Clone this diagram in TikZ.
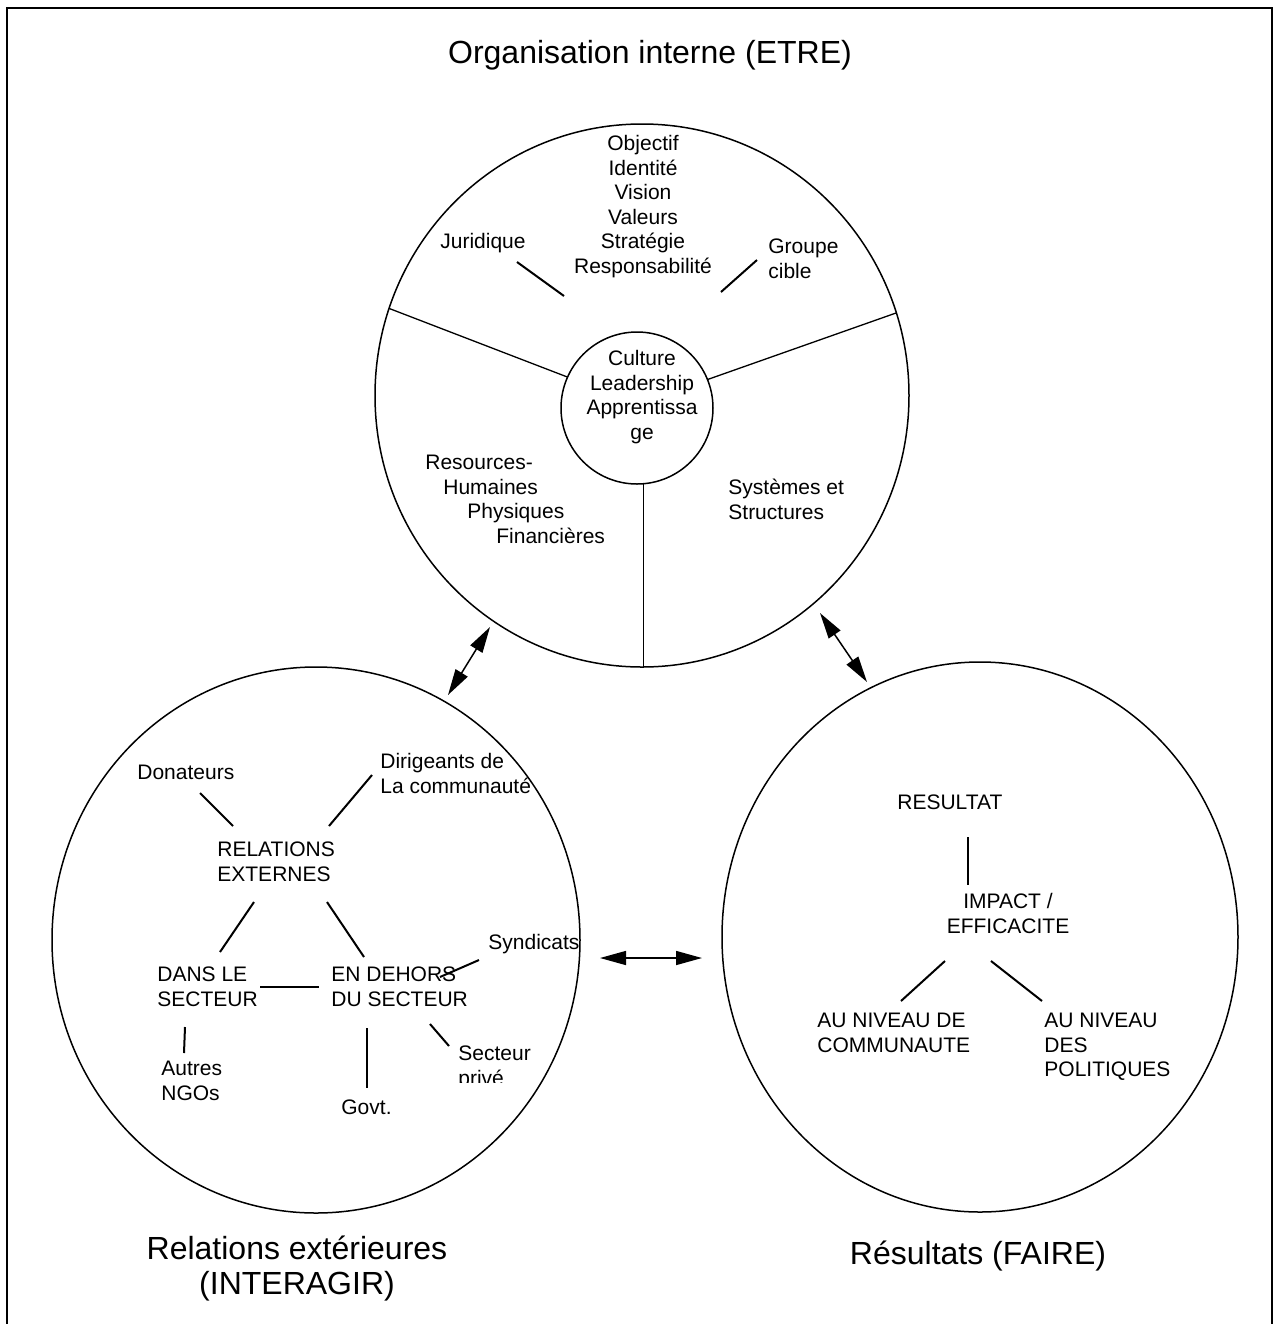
\documentclass[tikz,border=0pt]{standalone}
\usepackage{fontspec}
\setmainfont{Liberation Sans}
\usetikzlibrary{shapes.geometric,arrows.meta}
\begin{document}
\begin{tikzpicture}[x=0.5pt,y=-0.5pt,
  lab/.style={inner sep=0pt, font=\fontsize{10.5}{12.25}\selectfont, align=left, anchor=north west},
  labc/.style={lab, align=center, anchor=north},
  big/.style={inner sep=0pt, font=\fontsize{16}{17.5}\selectfont, align=center, anchor=north},
  ring/.style={draw, line width=0.75pt, inner sep=0pt, outer sep=0pt, ellipse},
  tie/.style={line width=1pt},
  divider/.style={line width=0.65pt},
  link/.style={line width=0.75pt, {Triangle[length=13pt,width=7pt]}-{Triangle[length=13pt,width=7pt]}},
]
\useasboundingbox (0,0) rectangle (1277,1324);
% frame (open at the bottom)
\draw[line width=1.1pt] (7,1340) -- (7,8) -- (1272,8) -- (1272,1340);

% titles
\node[big] (ttop) at (650,39) {\strut Organisation interne (ETRE)};
\node[big] (tleft) at (297,1235) {\strut Relations extérieures\\(INTERAGIR)};
\node[big] (tright) at (978,1240) {\strut Résultats (FAIRE)};

% circles
\node[ring, minimum width=267pt, minimum height=271.5pt] (top) at (642,395.5) {};
\node[ring, circle, minimum size=76pt] (inner) at (637,408) {};
\node[ring, minimum width=264pt, minimum height=273pt] (left) at (316,940) {};
\node[ring, minimum width=258pt, minimum height=275pt] (right) at (980,937) {};

% dividers of the top circle
\draw[divider] (top.161.3) -- (inner.156.8);
\draw[divider] (top.18.7) -- (inner.22.9);
\draw[divider] (inner.-85.5) -- (inner.-85.5 |- top.south);

% top circle texts
\node[labc] (obj) at (643,133) {\strut Objectif\\Identité\\Vision\\Valeurs\\Stratégie\\Responsabilité};
\node[lab] (jur) at (440,231) {\strut Juridique};
\node[lab] (grp) at (768,236) {\strut Groupe\\cible};
\node[labc] (cul) at (642,348) {\strut Culture\\Leadership\\Apprentissa\\ge};
\node[lab] (res) at (425,452) {\strut Resources-\\\hspace*{9pt}Humaines\\\hspace*{21pt}Physiques\\\hspace*{35.5pt}Financières};
\node[lab] (sys) at (728,477) {\strut Systèmes et\\Structures};
\coordinate (j1) at (517,262); \coordinate (j2) at (564,296);
\coordinate (g1) at (757,260); \coordinate (g2) at (721,292);
\draw[tie] (j1) -- (j2);
\draw[tie] (g1) -- (g2);

% left circle texts
\node[lab] (don) at (137,762) {\strut Donateurs};
\node[lab] (dir) at (380,751) {\strut Dirigeants de\\La communauté};
\node[lab] (rel) at (217,839) {\strut RELATIONS\\EXTERNES};
\node[lab] (dans) at (157,964) {\strut DANS LE\\SECTEUR};
\node[lab] (hors) at (331,964) {\strut EN DEHORS\\DU SECTEUR};
\node[lab] (syn) at (488,932) {\strut Syndicats};
\node[lab] (ngo) at (161,1058) {\strut Autres\\NGOs};
\node[lab] (gov) at (341,1097) {\strut Govt.};
\begin{scope}
  \clip (448,1035) rectangle (570,1082);
  \node[lab] (priv) at (458,1043) {\strut Secteur\\privé};
\end{scope}
\coordinate (l1a) at (200,793);  \coordinate (l1b) at (233,826);
\coordinate (l2a) at (372,775);  \coordinate (l2b) at (329,826);
\coordinate (l3a) at (254,902);  \coordinate (l3b) at (220,952);
\coordinate (l4a) at (327,902);  \coordinate (l4b) at (364,957);
\coordinate (l5a) at (260,987);  \coordinate (l5b) at (319,987);
\coordinate (l6a) at (479,960);  \coordinate (l6b) at (440,977);
\coordinate (l7a) at (185,1027); \coordinate (l7b) at (184,1053);
\coordinate (l8a) at (367,1028); \coordinate (l8b) at (367,1088);
\coordinate (l9a) at (430,1024); \coordinate (l9b) at (449,1046);
\foreach \i in {1,...,9} { \draw[tie] (l\i a) -- (l\i b); }

% right circle texts
\node[lab] (rsl) at (897,792) {\strut RESULTAT};
\node[labc] (imp) at (1008,891) {\strut IMPACT /\\EFFICACITE};
\node[lab] (com) at (817,1010) {\strut AU NIVEAU DE\\COMMUNAUTE};
\node[lab] (pol) at (1044,1010) {\strut AU NIVEAU\\DES\\POLITIQUES};
\coordinate (r1a) at (968,837); \coordinate (r1b) at (968,885);
\coordinate (r2a) at (945,961); \coordinate (r2b) at (901,1001);
\coordinate (r3a) at (991,961); \coordinate (r3b) at (1042,1001);
\foreach \i in {1,2,3} { \draw[tie] (r\i a) -- (r\i b); }

% arrows between the circles
\coordinate (a1) at (490,627); \coordinate (a2) at (448,695);
\coordinate (b1) at (820,613); \coordinate (b2) at (867,682);
\coordinate (c1) at (600,958); \coordinate (c2) at (702,958);
\draw[link] (a1) -- (a2);
\draw[link] (b1) -- (b2);
\draw[link] (c1) -- (c2);
\end{tikzpicture}
\end{document}
